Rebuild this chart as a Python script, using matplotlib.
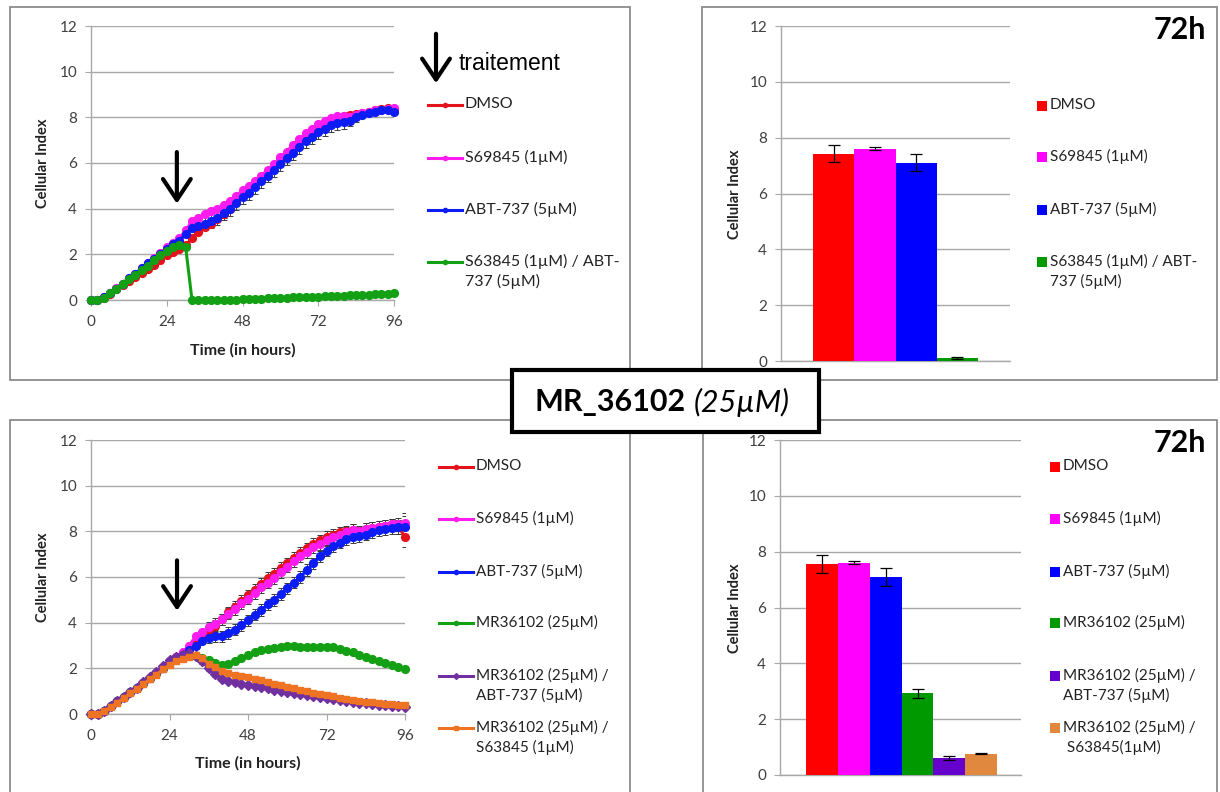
import matplotlib
matplotlib.use('Agg')
import numpy as np
import matplotlib.pyplot as plt
from matplotlib.patches import Rectangle, FancyArrowPatch
from matplotlib.lines import Line2D

W, H = 1220, 792
plt.rcParams['font.family'] = ['Lato', 'DejaVu Sans']

# time points (hours)
hours = [0, 2, 4, 6, 8, 10, 12, 14, 16, 18, 20, 22, 24, 26, 28, 30, 32, 34, 36, 38,
         40, 42, 44, 46, 48, 50, 52, 54, 56, 58, 60, 62, 64, 66, 68, 70, 72, 74, 76, 78,
         80, 82, 84, 86, 88, 90, 92, 94, 96]

# --- top: S63845 / ABT-737 ---
top_dmso = [0, 0, 0.1, 0.28, 0.46, 0.64, 0.82, 1.0, 1.18, 1.36, 1.55, 1.75,
            1.95, 2.1, 2.25, 2.4, 2.7, 3.0, 3.2, 3.35, 3.55, 3.75, 4.0, 4.3, 4.6, 4.9,
            5.15, 5.4, 5.65, 5.9, 6.15, 6.4, 6.65, 6.9, 7.15, 7.35, 7.55, 7.7, 7.85, 7.95,
            8.05, 8.1, 8.15, 8.2, 8.25, 8.3, 8.35, 8.4, 8.35]
top_s69 = [0, 0, 0.12, 0.32, 0.52, 0.72, 0.95, 1.15, 1.38, 1.6, 1.82, 2.05,
           2.3, 2.5, 2.7, 3.05, 3.45, 3.6, 3.75, 3.9, 4.0, 4.15, 4.35, 4.55, 4.8, 5.0,
           5.2, 5.45, 5.7, 5.95, 6.25, 6.5, 6.8, 7.05, 7.3, 7.5, 7.7, 7.85, 7.95, 8.05,
           8.05, 8.0, 8.1, 8.2, 8.25, 8.3, 8.3, 8.35, 8.4]
top_abt = [0, 0, 0.12, 0.3, 0.5, 0.72, 0.95, 1.15, 1.38, 1.6, 1.8, 2.0,
           2.25, 2.45, 2.6, 2.9, 3.15, 3.25, 3.35, 3.45, 3.6, 3.8, 4.0, 4.25, 4.5, 4.7,
           4.95, 5.2, 5.45, 5.7, 5.95, 6.2, 6.45, 6.7, 6.95, 7.15, 7.35, 7.5, 7.65, 7.75,
           7.8, 7.85, 8.0, 8.1, 8.2, 8.25, 8.3, 8.3, 8.25]
top_combo = [0, 0, 0.1, 0.3, 0.5, 0.7, 0.9, 1.1, 1.3, 1.5, 1.75, 1.95,
             2.15, 2.3, 2.4, 2.3, 0.0, 0.0, 0.0, 0.0, 0.0, 0.0, 0.01, 0.02, 0.03, 0.04,
             0.05, 0.06, 0.07, 0.08, 0.09, 0.1, 0.11, 0.12, 0.13, 0.14, 0.15, 0.16, 0.17, 0.18,
             0.19, 0.2, 0.21, 0.22, 0.23, 0.25, 0.26, 0.28, 0.29]
top_dmso_err = [0, 0, 0, 0, 0, 0, 0, 0, 0, 0, 0, 0,
                0, 0, 0, 0, 0, 0.15, 0.15, 0.15, 0.15, 0.15, 0.15, 0.15, 0.15, 0.15,
                0.15, 0.15, 0.15, 0.15, 0.15, 0.15, 0.15, 0.15, 0.15, 0.15, 0.15, 0.15, 0.15, 0.15,
                0.15, 0.15, 0.1, 0.1, 0.1, 0.1, 0.1, 0.1, 0.1]
top_abt_err = [0, 0, 0, 0, 0, 0, 0, 0, 0, 0, 0, 0,
               0, 0, 0, 0, 0, 0.3, 0.3, 0.3, 0.3, 0.3, 0.3, 0.3, 0.3, 0.3,
               0.3, 0.3, 0.3, 0.3, 0.3, 0.3, 0.3, 0.3, 0.3, 0.3, 0.3, 0.3, 0.3, 0.3,
               0.3, 0.25, 0.2, 0, 0, 0, 0, 0, 0]

# --- bottom: MR36102 ---
bot_dmso = [0, 0, 0.15, 0.35, 0.55, 0.75, 0.95, 1.15, 1.35, 1.58, 1.8, 2.0,
            2.3, 2.5, 2.65, 2.85, 3.1, 3.35, 3.6, 3.85, 4.15, 4.45, 4.7, 4.95, 5.2, 5.45,
            5.7, 5.95, 6.15, 6.4, 6.6, 6.85, 7.05, 7.25, 7.45, 7.6, 7.75, 7.85, 7.95, 8.0,
            8.05, 7.95, 8.1, 8.15, 8.2, 8.25, 8.3, 8.2, 7.75]
bot_s69 = [0, 0, 0.15, 0.35, 0.55, 0.75, 0.95, 1.15, 1.35, 1.58, 1.8, 2.0,
           2.3, 2.5, 2.7, 3.0, 3.4, 3.6, 3.8, 3.95, 4.15, 4.4, 4.6, 4.85, 5.05, 5.3,
           5.55, 5.75, 5.95, 6.2, 6.45, 6.7, 6.9, 7.1, 7.3, 7.45, 7.6, 7.75, 7.85, 7.95,
           8.05, 8.0, 8.1, 8.15, 8.2, 8.25, 8.3, 8.3, 8.35]
bot_abt = [0, 0, 0.15, 0.35, 0.55, 0.75, 0.95, 1.15, 1.35, 1.58, 1.8, 2.0,
           2.3, 2.45, 2.6, 2.8, 3.0, 3.2, 3.35, 3.4, 3.4, 3.55, 3.7, 3.9, 4.1, 4.35,
           4.55, 4.8, 5.0, 5.25, 5.5, 5.75, 6.0, 6.3, 6.6, 6.9, 7.15, 7.35, 7.5, 7.65,
           7.75, 7.8, 7.85, 7.95, 8.05, 8.1, 8.15, 8.2, 8.2]
bot_mr = [0, 0, 0.15, 0.35, 0.55, 0.75, 0.95, 1.15, 1.35, 1.58, 1.8, 2.0,
          2.3, 2.45, 2.55, 2.6, 2.55, 2.45, 2.35, 2.25, 2.15, 2.2, 2.3, 2.45, 2.6, 2.7,
          2.8, 2.85, 2.9, 2.95, 3.0, 2.98, 2.95, 2.92, 2.92, 2.93, 2.95, 2.92, 2.85, 2.78,
          2.7, 2.6, 2.5, 2.42, 2.33, 2.25, 2.15, 2.05, 1.98]
bot_mr_abt = [0, 0, 0.15, 0.35, 0.55, 0.75, 0.95, 1.15, 1.4, 1.62, 1.85, 2.1,
              2.35, 2.5, 2.6, 2.65, 2.55, 2.3, 2.0, 1.75, 1.55, 1.45, 1.38, 1.32, 1.27, 1.22,
              1.17, 1.12, 1.06, 1.02, 0.98, 0.93, 0.88, 0.83, 0.78, 0.73, 0.69, 0.65, 0.61, 0.57,
              0.54, 0.5, 0.47, 0.44, 0.41, 0.38, 0.36, 0.34, 0.32]
bot_mr_s63 = [0, 0, 0.12, 0.3, 0.5, 0.7, 0.9, 1.1, 1.3, 1.52, 1.72, 1.95,
              2.15, 2.3, 2.42, 2.5, 2.6, 2.45, 2.2, 2.05, 1.9, 1.8, 1.72, 1.68, 1.62, 1.55,
              1.48, 1.4, 1.32, 1.25, 1.18, 1.12, 1.06, 1.0, 0.94, 0.88, 0.82, 0.77, 0.72, 0.67,
              0.62, 0.58, 0.54, 0.51, 0.48, 0.45, 0.43, 0.41, 0.4]
bot_ctrl_err = [0, 0, 0, 0, 0, 0, 0, 0, 0, 0, 0, 0,
                0, 0, 0, 0, 0, 0, 0.25, 0.25, 0.25, 0.25, 0.25, 0.25, 0.25, 0.25,
                0.25, 0.25, 0.25, 0.25, 0.25, 0.25, 0.25, 0.25, 0.25, 0.25, 0.25, 0.25, 0.25, 0.25,
                0.25, 0.25, 0.25, 0.25, 0.25, 0.25, 0.25, 0.3, 0.45]
bot_mr_err = [0, 0, 0, 0, 0, 0, 0, 0, 0, 0, 0, 0,
              0, 0, 0, 0, 0, 0.1, 0.1, 0.1, 0.1, 0.1, 0.1, 0.1, 0.1, 0.1,
              0.1, 0.1, 0.1, 0.1, 0.1, 0.1, 0.1, 0.1, 0.1, 0.1, 0.1, 0.1, 0.1, 0.1,
              0.1, 0.1, 0.1, 0.1, 0.1, 0.1, 0.1, 0.1, 0.1]
bot_combo_err = [0, 0, 0, 0, 0, 0, 0, 0, 0, 0, 0, 0,
                 0, 0, 0, 0, 0, 0.1, 0.12, 0.12, 0.12, 0.1, 0.08, 0.06, 0.05, 0.04,
                 0.04, 0.04, 0.04, 0.04, 0.04, 0.04, 0.04, 0.04, 0.04, 0.04, 0.04, 0.04, 0.04, 0.04,
                 0.04, 0.04, 0.04, 0.04, 0.04, 0.04, 0.04, 0.04, 0.04]

# --- bars at 72h ---
top_bar_labels = ['DMSO', 'S69845 (1µM)', 'ABT-737 (5µM)', 'S63845 (1µM) / ABT-\n737 (5µM)']
top_bar_vals = [7.42, 7.6, 7.1, 0.1]
top_bar_err = [0.3, 0.05, 0.3, 0.03]
bot_bar_labels = ['DMSO', 'S69845 (1µM)', 'ABT-737 (5µM)', 'MR36102 (25µM)',
                  'MR36102 (25µM) /\nABT-737 (5µM)', 'MR36102 (25µM) /\n S63845(1µM)']
bot_bar_vals = [7.57, 7.6, 7.1, 2.92, 0.62, 0.76]
bot_bar_err = [0.32, 0.05, 0.32, 0.16, 0.07, 0.02]

top_line_labels = ['DMSO', 'S69845 (1µM)', 'ABT-737 (5µM)', 'S63845 (1µM) / ABT-\n737 (5µM)']
bot_line_labels = ['DMSO', 'S69845 (1µM)', 'ABT-737 (5µM)', 'MR36102 (25µM)',
                   'MR36102 (25µM) /\nABT-737 (5µM)', 'MR36102 (25µM) /\nS63845 (1µM)']

line_colors = ['#e3121b', '#ff1cf0', '#0b1cf5', '#14a014', '#7030a0', '#ee7322']
line_markers = ['o', 'o', 'o', 'o', 'D', 's']
bar_colors = ['#ff0000', '#ff00ff', '#0000ff', '#009a00', '#6600cc', '#e0883e']

GRID = '#a8a8a8'
TICK_TXT = '#404040'

fig = plt.figure(figsize=(W / 100, H / 100), dpi=100)


def px_axes(x0, y0, x1, y1):
    return fig.add_axes([x0 / W, 1 - y1 / H, (x1 - x0) / W, (y1 - y0) / H])


def fpt(x, y):
    return x / W, 1 - y / H


def base_style(ax):
    ax.set_ylim(0, 12)
    ax.set_yticks(range(0, 13, 2))
    ax.yaxis.grid(True, color=GRID, lw=1)
    ax.set_axisbelow(True)
    for s in ['top', 'right']:
        ax.spines[s].set_visible(False)
    for s in ['left', 'bottom']:
        ax.spines[s].set_color(GRID)
        ax.spines[s].set_linewidth(1)
    ax.tick_params(axis='y', length=4, color=GRID, labelsize=11,
                   labelcolor=TICK_TXT, pad=6)


def panel_border(x0, y0, x1, y1):
    fig.add_artist(Rectangle(fpt(x0, y1), (x1 - x0) / W, (y1 - y0) / H,
                             transform=fig.transFigure, fill=False,
                             edgecolor='#8c8c8c', lw=1.3))


def draw_lines(ax, series, errs):
    t = np.array(hours)
    for (y, e) in errs:
        y = np.array(y)
        e = np.array(e)
        m = e > 0
        ax.errorbar(t[m], y[m], yerr=e[m], fmt='none', ecolor='#3a3a3a',
                    elinewidth=0.7, capsize=2.2, capthick=0.7, zorder=2)
    for i, y in enumerate(series):
        ms = 5.6 if line_markers[i] == 'o' else 4.6
        ax.plot(hours, y, color=line_colors[i], lw=2.2, marker=line_markers[i],
                ms=ms, clip_on=False, zorder=3 + i)
    ax.set_xlim(0, 96)
    ax.set_xticks([0, 24, 48, 72, 96])
    ax.tick_params(axis='x', length=4, color=GRID, labelsize=11,
                   labelcolor=TICK_TXT, pad=7)


def down_arrow(ax, x, y0, y1):
    ax.annotate('', xy=(x, y1), xytext=(x, y0), xycoords='data',
                arrowprops=dict(arrowstyle='->,head_length=0.75,head_width=0.5',
                                lw=3, color='black', mutation_scale=20),
                zorder=20)


def line_legend(x0, ys, labels, colors, markers, size):
    for y, lab, c, mk in zip(ys, labels, colors, markers):
        xa, ya = fpt(x0, y)
        xb, _ = fpt(x0 + 34, y)
        fig.add_artist(Line2D([xa, xb], [ya, ya], transform=fig.transFigure,
                              color=c, lw=2.2))
        fig.add_artist(Line2D([(xa + xb) / 2], [ya], transform=fig.transFigure,
                              color=c, marker=mk, ms=3))
        fig.text(*fpt(x0 + 37, y - 8), lab, fontsize=size, color='#222222',
                 va='top', ha='left', linespacing=1.4)


def bar_legend(x0, ys, labels, colors):
    for y, lab, c in zip(ys, labels, colors):
        fig.add_artist(Rectangle(fpt(x0, y + 5), 10 / W, 10 / H,
                                 transform=fig.transFigure, color=c, lw=0))
        fig.text(*fpt(x0 + 13, y - 8), lab, fontsize=11, color='#222222',
                 va='top', ha='left', linespacing=1.4)


# panel borders
panel_border(10, 7, 630, 380)
panel_border(702, 7, 1217, 380)
panel_border(10, 420, 630, 800)
panel_border(703, 420, 1217, 800)

# ---------------- top left ----------------
ax1 = px_axes(91, 26, 394, 300)
base_style(ax1)
draw_lines(ax1, [top_dmso, top_s69, top_abt, top_combo],
           [(top_dmso, top_dmso_err), (top_abt, top_abt_err)])
down_arrow(ax1, 27.2, 6.6, 4.1)
fig.text(*fpt(243, 350), 'Time (in hours)', fontsize=11.5, fontweight='bold',
         ha='center', va='center', color='#222222')
fig.text(*fpt(43, 163), 'Cellular Index', fontsize=10.5, fontweight='bold',
         rotation=90, ha='center', va='center', color='#222222')
line_legend(428, [105, 158, 210, 262], top_line_labels, line_colors[:4],
            line_markers[:4], 11.5)

# traitement arrow
fig.add_artist(FancyArrowPatch(
    fpt(436, 31), fpt(436, 86), transform=fig.transFigure,
    arrowstyle='->,head_length=0.75,head_width=0.5', lw=3, color='black',
    mutation_scale=20))
fig.text(*fpt(459, 63), 'traitement', fontsize=16.5, family='Liberation Sans',
         ha='left', va='center', color='black')

# ---------------- top right ----------------
ax2 = px_axes(781, 26, 1010, 361)
base_style(ax2)
x2 = np.arange(len(top_bar_vals))
ax2.bar(x2, top_bar_vals, width=1.0, color=bar_colors[:4], zorder=3)
ax2.errorbar(x2, top_bar_vals, yerr=top_bar_err, fmt='none', ecolor='black',
             elinewidth=0.9, capsize=4, capthick=0.9, zorder=4)
ax2.set_xlim(-1.276, 4.276)
ax2.set_xticks([])
fig.text(*fpt(735, 194), 'Cellular Index', fontsize=10.5, fontweight='bold',
         rotation=90, ha='center', va='center', color='#222222')
fig.text(*fpt(1206, 30), '72h', fontsize=22, fontweight='bold', ha='right',
         va='center', color='black')
bar_legend(1037, [106, 157, 210, 262], top_bar_labels, bar_colors[:4])

# ---------------- bottom left ----------------
ax3 = px_axes(91, 440, 405, 714)
base_style(ax3)
draw_lines(ax3, [bot_dmso, bot_s69, bot_abt, bot_mr, bot_mr_abt, bot_mr_s63],
           [(bot_dmso, bot_ctrl_err), (bot_s69, bot_ctrl_err), (bot_abt, bot_ctrl_err),
            (bot_mr, bot_mr_err), (bot_mr_abt, bot_combo_err), (bot_mr_s63, bot_combo_err)])
down_arrow(ax3, 26.3, 6.85, 4.4)
fig.text(*fpt(248, 763), 'Time (in hours)', fontsize=11.5, fontweight='bold',
         ha='center', va='center', color='#222222')
fig.text(*fpt(43, 577), 'Cellular Index', fontsize=10.5, fontweight='bold',
         rotation=90, ha='center', va='center', color='#222222')
line_legend(439, [467, 519, 572, 623, 676, 728], bot_line_labels, line_colors,
            line_markers, 11)

# ---------------- bottom right ----------------
ax4 = px_axes(780, 440, 1021, 775)
base_style(ax4)
x4 = np.arange(len(bot_bar_vals))
ax4.bar(x4, bot_bar_vals, width=1.0, color=bar_colors, zorder=3)
ax4.errorbar(x4, bot_bar_vals, yerr=bot_bar_err, fmt='none', ecolor='black',
             elinewidth=0.9, capsize=4, capthick=0.9, zorder=4)
ax4.set_xlim(-1.32, 6.25)
ax4.set_xticks([])
fig.text(*fpt(735, 608), 'Cellular Index', fontsize=10.5, fontweight='bold',
         rotation=90, ha='center', va='center', color='#222222')
fig.text(*fpt(1206, 443), '72h', fontsize=22, fontweight='bold', ha='right',
         va='center', color='black')
bar_legend(1050, [467, 519, 572, 623, 676, 728], bot_bar_labels, bar_colors)

# ---------------- centre title box ----------------
fig.add_artist(Rectangle(fpt(512, 432), (819 - 512) / W, (432 - 370) / H,
                         transform=fig.transFigure, facecolor='white',
                         edgecolor='black', lw=3, zorder=10))
fig.text(*fpt(686, 402), 'MR_36102', fontsize=22, fontweight='bold',
         ha='right', va='center', color='black', zorder=11)
fig.text(*fpt(694, 402), '(25µM)', fontsize=22, style='italic',
         ha='left', va='center', color='black', zorder=11)

fig.savefig('out.png', dpi=100, facecolor='white')
